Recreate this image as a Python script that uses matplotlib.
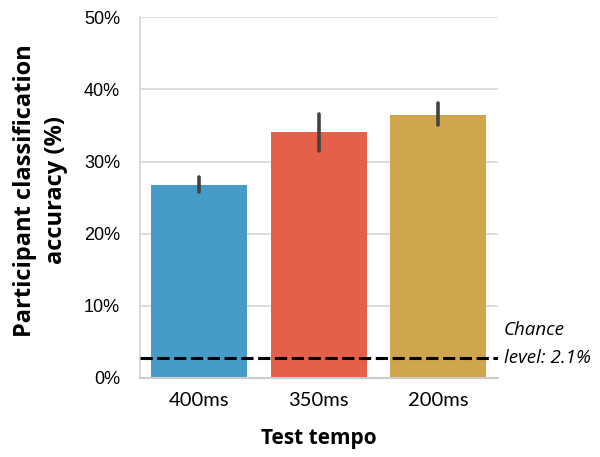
import matplotlib
matplotlib.use("Agg")
import matplotlib.pyplot as plt
from matplotlib.ticker import FuncFormatter

# data
tempos = ["400ms", "350ms", "200ms"]
accuracy = [26.8, 34.1, 36.5]
err_low = [25.7, 31.5, 35.1]
err_high = [27.9, 36.6, 38.1]
chance = 2.7
colors = ["#469CC9", "#E4604B", "#CFA54D"]

plt.rcParams['font.family'] = ['Lato', 'DejaVu Sans']

fig = plt.figure(figsize=(6, 4.57), dpi=100)
ax = fig.add_axes([0.2325, 0.1735, 0.5975, 0.7885])

x = range(len(tempos))
ax.bar(x, accuracy, width=0.8, color=colors, zorder=2)
for i in x:
    ax.plot([i, i], [err_low[i], err_high[i]], color="#424242", lw=2.6,
            solid_capstyle="round", zorder=3)

ax.axhline(chance, color="black", ls=(0, (4, 1.5)), lw=2.2, zorder=4)
ax.text(2.55, chance + 3.9, "Chance", fontsize=13.5, style="italic",
        va="center", family="Open Sans")
ax.text(2.55, chance, "level: 2.1%", fontsize=13.5, style="italic",
        va="center", family="Open Sans")

ax.set_xlim(-0.5, 2.5)
ax.set_ylim(0, 50)
ax.set_yticks([0, 10, 20, 30, 40, 50])
ax.yaxis.set_major_formatter(FuncFormatter(lambda v, p: f"{v:.0f}%"))
ax.set_xticks(list(x))
ax.set_xticklabels(tempos)
ax.tick_params(axis="both", length=0)
ax.tick_params(axis="y", labelsize=13, pad=14)
ax.tick_params(axis="x", labelsize=14.5, pad=10)
for lab in ax.get_yticklabels():
    lab.set_family("Liberation Sans")

ax.grid(axis="y", color="#d6d6d6", lw=1.2, zorder=0)
ax.set_axisbelow(True)
for s in ["top", "right"]:
    ax.spines[s].set_visible(False)
ax.spines["left"].set_color("#d6d6d6")
ax.spines["bottom"].set_color("#cccccc")
ax.spines["left"].set_linewidth(1.2)
ax.spines["bottom"].set_linewidth(1.5)

ax.set_xlabel("Test tempo", fontsize=15, fontweight="bold", labelpad=14,
              family="Open Sans")
ax.set_ylabel("Participant classification\naccuracy (%)", fontsize=17,
              fontweight="bold", family="Open Sans", linespacing=1.35)
ax.yaxis.set_label_coords(-0.2, 0.52)

fig.savefig("out.png", dpi=100)
